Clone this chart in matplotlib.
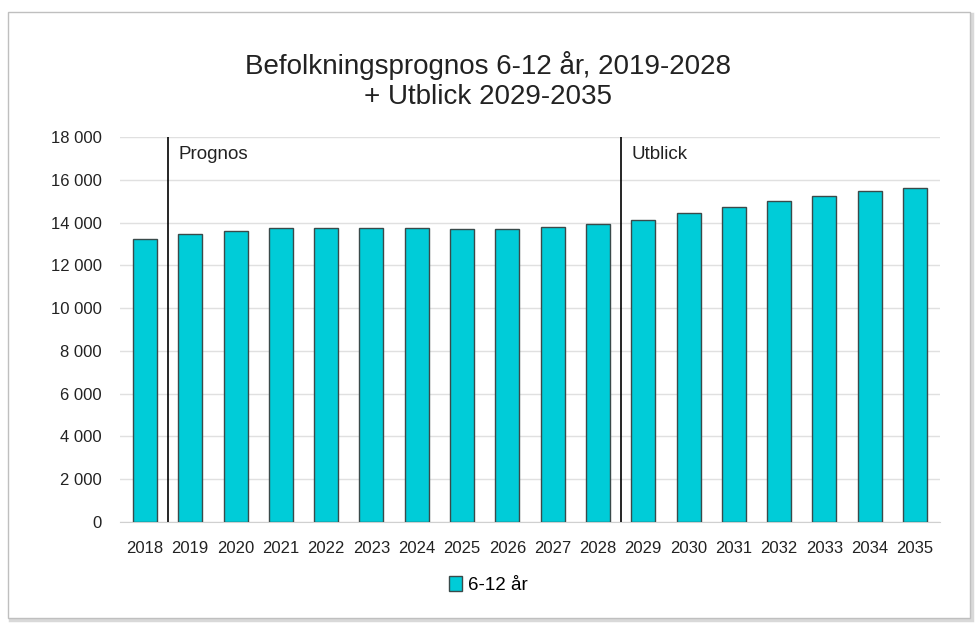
import matplotlib
matplotlib.use("Agg")
import matplotlib.pyplot as plt
from matplotlib.patches import Rectangle
from matplotlib.ticker import FuncFormatter

years = [str(y) for y in range(2018, 2036)]
values = [13230, 13450, 13590, 13760, 13760, 13760, 13760, 13680, 13710,
          13800, 13950, 14120, 14450, 14740, 15020, 15240, 15470, 15600]
series_name = "6-12 år"
title = "Befolkningsprognos 6-12 år, 2019-2028\n+ Utblick 2029-2035"
yticks = list(range(0, 18001, 2000))

plt.rcParams['font.family'] = ['Liberation Sans', 'DejaVu Sans']

fig = plt.figure(figsize=(9.76, 6.27), dpi=100)
# outer frame with shadow
fig.patches.append(Rectangle((10/976, 1-620/627), 962/976, 606/627, transform=fig.transFigure,
                             facecolor='none', edgecolor='#d9d9d9', lw=2.5, zorder=-2))
fig.patches.append(Rectangle((8/976, 1-618/627), 962/976, 606/627, transform=fig.transFigure,
                             facecolor='white', edgecolor='#bfbfbf', lw=1, zorder=-1))

ax = fig.add_axes([120/976, 1-522/627, 820/976, 385/627])
ax.set_zorder(2)
ax.patch.set_alpha(0)
x = range(len(years))
ax.bar(x, values, width=0.53, color='#00CCD8', edgecolor='#3a4a4a', linewidth=1, zorder=3,
       label=series_name)
ax.set_xlim(-0.55, len(years) - 0.45)
ax.set_ylim(0, 18000)
ax.set_yticks(yticks)
ax.yaxis.set_major_formatter(FuncFormatter(lambda v, p: f"{int(v):,}".replace(",", " ")))
ax.set_xticks(list(x))
ax.set_xticklabels(years)
ax.tick_params(axis='both', length=0, labelsize=12, colors='#222222')
ax.tick_params(axis='x', pad=14)
ax.tick_params(axis='y', pad=13)
ax.grid(axis='y', color='#e0e0e0', lw=1, zorder=0)
for s in ['top', 'right', 'left']:
    ax.spines[s].set_visible(False)
ax.spines['bottom'].set_color('#d0d0d0')

ax.axvline(0.5, ymin=0, ymax=1.0, color='black', lw=1.2, zorder=4)
ax.axvline(10.5, ymin=0, ymax=1.0, color='black', lw=1.2, zorder=4)
ax.text(0.75, 17600, "Prognos", fontsize=13.5, va='top', ha='left', color='#222222')
ax.text(10.75, 17600, "Utblick", fontsize=13.5, va='top', ha='left', color='#222222')

fig.text(0.5, 1-81/627, title, ha='center', va='center', fontsize=20, color='#222222',
         linespacing=1.2)

leg = fig.legend(loc='center', bbox_to_anchor=(0.5, 1-585/627), frameon=False,
                 fontsize=13.5, handlelength=0.7, handleheight=0.8, handletextpad=0.3)

fig.savefig("out.png", dpi=100, facecolor='white')
